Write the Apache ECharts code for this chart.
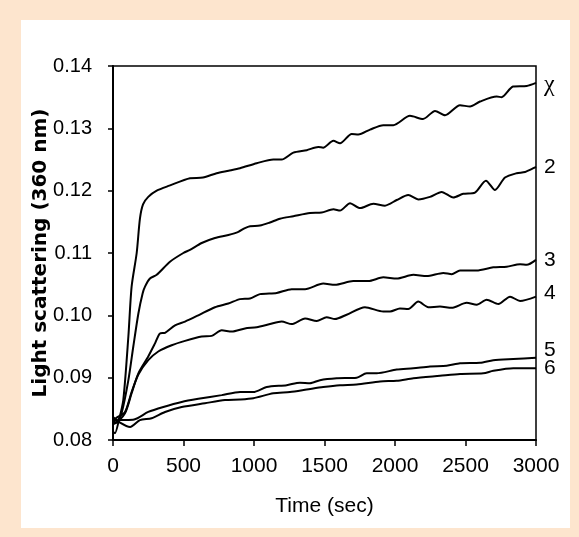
<!DOCTYPE html>
<html>
<head>
<meta charset="utf-8">
<script src="https://cdn.jsdelivr.net/npm/echarts@6/dist/echarts.min.js"></script>
<style>
  html, body { margin: 0; padding: 0; background: #fde5ce; }
  #main { width: 579px; height: 537px; }
</style>
</head>
<body>
<div id="main"></div>
<script>
// time (sec) vs light scattering
var chiData = [[0,0.0813],[14,0.0811],[40,0.0830],[73,0.0864],[109,0.0966],[132,0.1046],[168,0.1100],[191,0.1155],[213,0.1178],[250,0.1190],[310,0.1200],[400,0.1208],[546,0.1220],[638,0.1221],[735,0.1228],[820,0.1232],[901,0.1236],[1019,0.1244],[1137,0.1250],[1196,0.1250],[1279,0.1261],[1374,0.1265],[1456,0.1270],[1490,0.1269],[1563,0.1280],[1610,0.1276],[1693,0.1291],[1740,0.1290],[1823,0.1298],[1917,0.1305],[1988,0.1305],[2106,0.1320],[2199,0.1315],[2284,0.1328],[2355,0.1321],[2461,0.1337],[2532,0.1335],[2603,0.1343],[2721,0.1351],[2756,0.1350],[2837,0.1367],[2934,0.1368],[3000,0.1373]];
var s2Data = [[0,0.0825],[30,0.0830],[61,0.0843],[109,0.0896],[144,0.0950],[180,0.1003],[210,0.1035],[227,0.1046],[262,0.1059],[310,0.1065],[404,0.1086],[499,0.1100],[546,0.1105],[629,0.1116],[723,0.1124],[818,0.1129],[889,0.1134],[936,0.1140],[972,0.1143],[1042,0.1144],[1113,0.1149],[1184,0.1155],[1279,0.1159],[1397,0.1164],[1480,0.1165],[1563,0.1170],[1610,0.1168],[1681,0.1180],[1752,0.1172],[1846,0.1179],[1929,0.1176],[2012,0.1185],[2094,0.1193],[2165,0.1186],[2248,0.1190],[2331,0.1198],[2413,0.1189],[2484,0.1195],[2567,0.1197],[2645,0.1216],[2709,0.1201],[2780,0.1221],[2863,0.1228],[2922,0.1230],[3000,0.1238]];
var s3Data = [[0,0.0835],[14,0.0827],[85,0.0843],[132,0.0875],[180,0.0907],[250,0.0934],[298,0.0955],[333,0.0971],[369,0.0972],[440,0.0984],[511,0.0990],[605,0.1000],[723,0.1013],[818,0.1019],[901,0.1026],[972,0.1027],[1042,0.1034],[1161,0.1036],[1267,0.1042],[1362,0.1042],[1491,0.1051],[1574,0.1049],[1704,0.1055],[1811,0.1055],[1917,0.1061],[2012,0.1059],[2130,0.1065],[2225,0.1063],[2343,0.1068],[2402,0.1066],[2461,0.1072],[2579,0.1072],[2697,0.1077],[2792,0.1078],[2887,0.1082],[2934,0.1081],[3000,0.1089]];
var s4Data = [[0,0.0830],[20,0.0835],[85,0.0845],[132,0.0877],[180,0.0905],[250,0.0928],[321,0.0942],[416,0.0952],[511,0.0959],[629,0.0966],[700,0.0967],[771,0.0976],[842,0.0974],[936,0.0979],[1019,0.0981],[1113,0.0986],[1196,0.0990],[1267,0.0986],[1362,0.0995],[1445,0.0991],[1515,0.0997],[1574,0.0994],[1657,0.1001],[1787,0.1013],[1917,0.1006],[1965,0.1006],[2035,0.1011],[2094,0.1010],[2165,0.1022],[2236,0.1013],[2319,0.1014],[2402,0.1012],[2508,0.1020],[2579,0.1017],[2650,0.1025],[2733,0.1018],[2816,0.1030],[2887,0.1023],[3000,0.1030]];
var s5Data = [[0,0.0830],[50,0.0832],[150,0.0833],[250,0.0845],[357,0.0853],[487,0.0861],[605,0.0866],[771,0.0872],[901,0.0877],[995,0.0877],[1090,0.0885],[1232,0.0888],[1326,0.0892],[1397,0.0891],[1468,0.0896],[1586,0.0899],[1728,0.0900],[1799,0.0907],[1870,0.0907],[2012,0.0913],[2130,0.0915],[2248,0.0918],[2366,0.0919],[2461,0.0923],[2603,0.0924],[2697,0.0928],[2839,0.0930],[3000,0.0932]];
var s6Data = [[0,0.0837],[50,0.0828],[121,0.0821],[191,0.0832],[274,0.0835],[369,0.0845],[487,0.0853],[652,0.0859],[794,0.0864],[901,0.0865],[995,0.0867],[1137,0.0875],[1255,0.0877],[1374,0.0881],[1491,0.0885],[1610,0.0888],[1728,0.0889],[1894,0.0894],[2012,0.0895],[2130,0.0899],[2319,0.0903],[2461,0.0906],[2626,0.0907],[2697,0.0911],[2839,0.0915],[3000,0.0915]];

var curveNames = ['χ', '2', '3', '4', '5', '6'];
var labelShift = [0, 0, 0, -3, -8, 0];

var font = 'Liberation Sans';

var myChart = echarts.init(document.getElementById('main'));
var allData = [chiData, s2Data, s3Data, s4Data, s5Data, s6Data];

var series = [];
for (let i = 0; i < allData.length; i++) {
    series.push({
        name: curveNames[i],
        type: 'line',
        data: allData[i],
        smooth: 0.25,
        showSymbol: false,
        lineStyle: { color: '#000', width: 2 },
        endLabel: {
            show: true,
            formatter: '{a}',
            color: '#000',
            fontSize: i == 0 ? 24 : 21,
            fontFamily: i == 0 ? 'Liberation Serif' : font,
            distance: 8,
            offset: [0, labelShift[i] + (i == 0 ? 2 : 0)]
        }
    });
}

var option = {
    backgroundColor: '#fde5ce',
    animation: false,
    graphic: [
        {
            type: 'rect',
            z: -10,
            silent: true,
            shape: { x: 21, y: 20, width: 549, height: 508 },
            style: { fill: '#fff' }
        }
    ],
    grid: {
        left: 113,
        top: 66,
        right: 43,
        bottom: 97,
        show: true,
        borderColor: '#000',
        borderWidth: 1.5,
        backgroundColor: 'transparent'
    },
    xAxis: {
        type: 'value',
        min: 0,
        max: 3000,
        interval: 500,
        name: 'Time (sec)',
        nameLocation: 'middle',
        nameGap: 56,
        nameTextStyle: { color: '#000', fontSize: 21, fontFamily: font },
        axisLine: { show: true, lineStyle: { color: '#000', width: 2 } },
        axisTick: { show: true, length: 6, lineStyle: { color: '#000', width: 1.5 } },
        axisLabel: {
            color: '#000', fontSize: 21, fontFamily: font, margin: 16,
            formatter: function (v) { return String(v); }
        },
        splitLine: { show: false }
    },
    yAxis: {
        type: 'value',
        min: 0.08,
        max: 0.14,
        interval: 0.01,
        name: 'Light scattering (360 nm)',
        nameLocation: 'middle',
        nameGap: 62,
        nameMoveOverlap: false,
        nameTextStyle: { color: '#000', fontSize: 20, fontWeight: 'bold', fontFamily: 'DejaVu Sans' },
        axisLine: { show: true, lineStyle: { color: '#000', width: 2 } },
        axisTick: { show: true, length: 5, lineStyle: { color: '#000', width: 1.5 } },
        axisLabel: {
            color: '#000', fontSize: 20, fontFamily: font, margin: 21,
            formatter: function (v) { return v.toFixed(2); }
        },
        splitLine: { show: false }
    },
    series: series
};

option && myChart.setOption(option);
</script>
</body>
</html>
